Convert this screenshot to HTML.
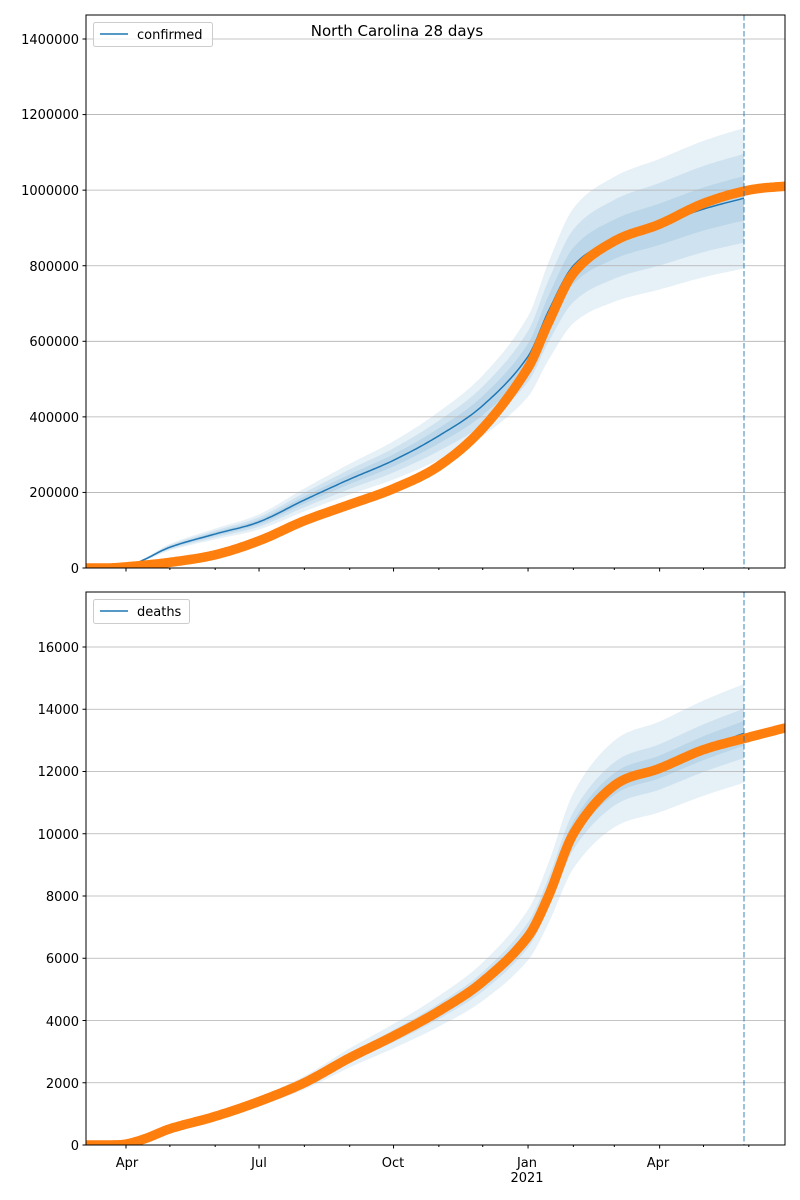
<!DOCTYPE html>
<html><head><meta charset="utf-8"><style>
html,body{margin:0;padding:0;background:#fff;}
svg{display:block;font-family:"DejaVu Sans","Liberation Sans",sans-serif;}
</style></head><body>
<svg id="s" width="800" height="1200" viewBox="0 0 800 1200" xmlns="http://www.w3.org/2000/svg">
<rect width="800" height="1200" fill="#fff"/>
<g id="top"></g><g id="bot"></g>
<g font-size="13" fill="#000" text-anchor="end">
<text x="79" y="573">0</text><text x="79" y="497">200000</text><text x="79" y="422">400000</text><text x="79" y="346">600000</text><text x="79" y="271">800000</text><text x="79" y="195">1000000</text><text x="79" y="119">1200000</text><text x="79" y="44">1400000</text>
<text x="79" y="1150">0</text><text x="79" y="1088">2000</text><text x="79" y="1026">4000</text><text x="79" y="963">6000</text><text x="79" y="901">8000</text><text x="79" y="839">10000</text><text x="79" y="776">12000</text><text x="79" y="714">14000</text><text x="79" y="652">16000</text>
</g>
<g font-size="13" fill="#000" text-anchor="middle">
<text x="127" y="1167">Apr</text><text x="259" y="1167">Jul</text><text x="393" y="1167">Oct</text><text x="527" y="1167">Jan</text><text x="527" y="1182">2021</text><text x="658" y="1167">Apr</text>
</g>
<text x="397" y="36" font-size="15" text-anchor="middle">North Carolina 28 days</text>
<g>
<rect x="93.5" y="22.5" width="119" height="24" rx="2" fill="#fff" fill-opacity="0.8" stroke="#ccc"/>
<line x1="100" y1="34" x2="128" y2="34" stroke="#1f77b4" stroke-width="1.5"/>
<text x="137" y="39" font-size="13">confirmed</text>
<rect x="93.5" y="599.5" width="96" height="24" rx="2" fill="#fff" fill-opacity="0.8" stroke="#ccc"/>
<line x1="100" y1="611" x2="128" y2="611" stroke="#1f77b4" stroke-width="1.5"/>
<text x="137" y="616" font-size="13">deaths</text>
</g>
</svg>
<script>
(function(){
var NS="http://www.w3.org/2000/svg";
function el(p,t,a){var e=document.createElementNS(NS,t);for(var k in a)e.setAttribute(k,a[k]);p.appendChild(e);return e;}
var base=Date.UTC(2020,3,1);
function X(y,m,d){return 126+((Date.UTC(y,m,d)-base)/864e5)*1.462;}
function interp(P,x){var n=P.length;if(x<=P[0][0])return P[0][1];if(x>=P[n-1][0])return P[n-1][1];
 for(var i=1;i<n;i++){if(x<=P[i][0]){var a=P[i-1],b=P[i];var h=b[0]-a[0];var t=(x-a[0])/h;
  var ma=(i>1)?(b[1]-P[i-2][1])/(b[0]-P[i-2][0]):(b[1]-a[1])/h;
  var mb=(i<n-1)?(P[i+1][1]-a[1])/(P[i+1][0]-a[0]):(b[1]-a[1])/h;
  var s=(b[1]-a[1])/h; if(s===0){ma=0;mb=0;}
  var t2=t*t,t3=t2*t;
  return (2*t3-3*t2+1)*a[1]+(t3-2*t2+t)*h*ma+(-2*t3+3*t2)*b[1]+(t3-t2)*h*mb;}}}
function mk(list){return list.map(function(p){return [X(p[0],p[1],p[2]),p[3]];});}
function panel(g,top,bottom,scale,ticks,orange,blue,rel){
 var xs=[];for(var x=blue[0][0];x<=744;x+=2)xs.push(x);xs.push(744);
 [2,1,0].forEach(function(k){
  var up=[],dn=[];
  xs.forEach(function(x){var v=Math.max(0,interp(blue,x));var r=rel[k]*(x<527?0.8+0.2*(x-126)/400:1);up.push(x.toFixed(1)+","+(bottom-v*(1+r)*scale).toFixed(1));dn.unshift(x.toFixed(1)+","+Math.min(bottom,bottom-v*(1-r)*scale).toFixed(1));});
  el(g,"polygon",{points:up.concat(dn).join(" "),fill:"#1f77b4","fill-opacity":"0.11"});
 });
 ticks.forEach(function(v){var y=bottom-v*scale;el(g,"line",{x1:86,x2:785,y1:y,y2:y,stroke:"#b0b0b0","stroke-width":0.8});});
 var bp=xs.map(function(x){return x.toFixed(1)+","+(bottom-Math.max(0,interp(blue,x))*scale).toFixed(1);});
 el(g,"polyline",{points:bp.join(" "),fill:"none",stroke:"#1f77b4","stroke-width":1.5});
 var op=[];for(var x=86;x<=785;x+=2)op.push(x+","+(bottom-Math.max(0,interp(orange,x))*scale).toFixed(1));
 el(g,"polyline",{points:op.join(" "),fill:"none",stroke:"#ff7f0e","stroke-width":9.5,"stroke-linejoin":"round","stroke-linecap":"round"});
 el(g,"rect",{x:0,y:top-20,width:86,height:bottom-top+30,fill:"#fff"});
 el(g,"rect",{x:785.5,y:top-20,width:20,height:bottom-top+30,fill:"#fff"});
 el(g,"rect",{x:80,y:bottom+0.5,width:720,height:15,fill:"#fff"});
 el(g,"rect",{x:80,y:top-12,width:720,height:11.5,fill:"#fff"});
 el(g,"line",{x1:744,x2:744,y1:top,y2:bottom,stroke:"#1f77b4","stroke-opacity":0.6,"stroke-width":1.5,"stroke-dasharray":"5.5,2.5"});
 el(g,"rect",{x:86,y:top,width:699,height:bottom-top,fill:"none",stroke:"#000","stroke-width":1});
 ticks.forEach(function(v){var y=bottom-v*scale;el(g,"line",{x1:82.5,x2:86,y1:y,y2:y,stroke:"#000"});});
 for(var i=0;i<16;i++){var yr=2020+Math.floor((3+i)/12),m=(3+i)%12;var x=X(yr,m,1);if(x>785.5)break;var major=(m%3==0);el(g,"line",{x1:x,x2:x,y1:bottom,y2:bottom+(major?3.5:2),stroke:"#000"});}
}
var ct=mk([[2020,1,28,0],[2020,2,20,0],[2020,3,1,3000],[2020,4,1,15000],[2020,5,1,35000],[2020,6,1,72000],[2020,7,1,125000],[2020,8,1,168000],[2020,9,1,210000],[2020,10,1,270000],[2020,11,1,370000],[2021,0,1,530000],[2021,0,15,650000],[2021,1,1,780000],[2021,2,1,865000],[2021,3,1,910000],[2021,4,1,965000],[2021,5,1,1000000],[2021,5,30,1012000]]);
var cb=mk([[2020,3,1,0],[2020,3,15,25000],[2020,4,1,55000],[2020,5,1,90000],[2020,6,1,122000],[2020,7,1,180000],[2020,8,1,235000],[2020,9,1,285000],[2020,10,1,350000],[2020,11,1,430000],[2021,0,1,560000],[2021,0,15,680000],[2021,1,1,800000],[2021,2,1,870000],[2021,3,1,910000],[2021,4,1,950000],[2021,4,30,980000]]);
panel(document.getElementById("top"),15,568,0.00037785,[0,200000,400000,600000,800000,1000000,1200000,1400000],ct,cb,[0.06,0.12,0.19]);
var dt=mk([[2020,1,28,0],[2020,2,20,0],[2020,3,1,30],[2020,3,15,220],[2020,4,1,520],[2020,5,1,920],[2020,6,1,1400],[2020,7,1,2000],[2020,8,1,2800],[2020,9,1,3500],[2020,10,1,4300],[2020,11,1,5250],[2021,0,1,6700],[2021,0,15,8000],[2021,1,1,10000],[2021,2,1,11550],[2021,3,1,12100],[2021,4,1,12700],[2021,5,1,13100],[2021,5,30,13450]]);
var db=mk([[2020,2,25,0],[2020,3,1,30],[2020,3,15,220],[2020,4,1,520],[2020,5,1,920],[2020,6,1,1400],[2020,7,1,2000],[2020,8,1,2800],[2020,9,1,3500],[2020,10,1,4300],[2020,11,1,5250],[2021,0,1,6750],[2021,0,15,8100],[2021,1,1,10100],[2021,2,1,11600],[2021,3,1,12150],[2021,4,1,12750],[2021,4,30,13250]]);
panel(document.getElementById("bot"),592,1145,0.031125,[0,2000,4000,6000,8000,10000,12000,14000,16000],dt,db,[0.03,0.06,0.12]);
})();
</script>
</body></html>
